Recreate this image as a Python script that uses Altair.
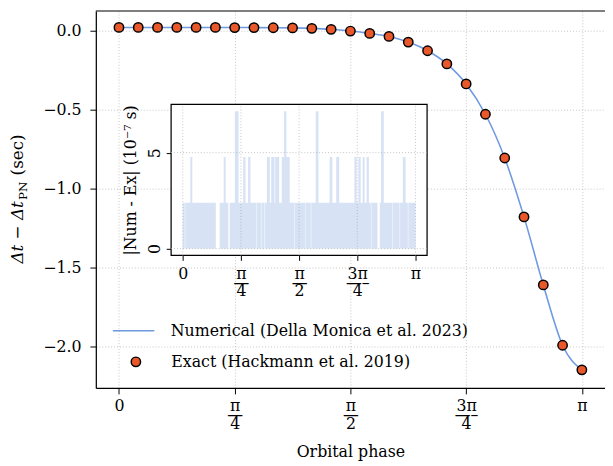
import altair as alt
import pandas as pd

# ---------------- data ----------------
phase = [0.0, 0.1309, 0.2618, 0.3927, 0.5236, 0.6545, 0.7854, 0.9163, 1.0472,
         1.1781, 1.3090, 1.4399, 1.5708, 1.7017, 1.8326, 1.9635, 2.0944, 2.2253,
         2.3562, 2.4871, 2.6180, 2.7489, 2.8798, 3.0107, 3.1416]
delta_t = [0.021, 0.021, 0.021, 0.021, 0.021, 0.021, 0.020, 0.020, 0.019,
           0.018, 0.015, 0.009, -0.002, -0.017, -0.036, -0.072, -0.127, -0.210,
           -0.337, -0.529, -0.806, -1.179, -1.610, -1.992, -2.148]

num_label = "Numerical (Della Monica et al. 2023)"
exact_label = "Exact (Hackmann et al. 2019)"

# inset: |Num - Ex| in units of 1e-7 s (step profile)
inset_phase = [0.000, 0.027, 0.033, 0.102, 0.129, 0.446, 0.499, 0.553, 0.579,
               0.615, 0.633, 0.704, 0.753, 0.816, 0.847, 0.882, 0.914, 0.989,
               0.995, 1.056, 1.062, 1.105, 1.111, 1.136, 1.176, 1.194, 1.239,
               1.248, 1.301, 1.337, 1.368, 1.399, 1.444, 1.502, 1.508, 1.658,
               1.664, 1.729, 1.735, 1.796, 1.832, 1.983, 2.019, 2.072, 2.112,
               2.317, 2.348, 2.371, 2.402, 2.429, 2.455, 2.482, 2.513, 2.540,
               2.546, 2.629, 2.660, 2.678, 2.714, 2.830, 2.836, 2.928, 2.934,
               2.972, 3.008, 3.039, 3.045, 3.1416]
inset_diff = [2.384, 0.0, 2.384, 4.768, 2.384, 0.0, 2.384, 4.768, 2.384,
              0.0, 2.384, 7.153, 2.384, 4.768, 2.384, 4.768, 2.384, 0.0,
              2.384, 0.0, 2.384, 0.0, 2.384, 4.768, 2.384, 4.768, 2.384,
              4.768, 2.384, 4.768, 7.153, 4.768, 2.384, 0.0, 2.384, 0.0,
              2.384, 0.0, 2.384, 7.153, 2.384, 4.768, 2.384, 4.768, 2.384,
              4.768, 2.384, 4.768, 2.384, 4.768, 2.384, 4.768, 2.384, 0.0,
              2.384, 0.0, 2.384, 7.153, 2.384, 0.0, 2.384, 0.0, 2.384,
              4.768, 2.384, 0.0, 2.384, 2.384]

x_ticks = [0.0, 0.7853981633974483, 1.5707963267948966, 2.356194490192345, 3.141592653589793]
y_ticks = [0.0, -0.5, -1.0, -1.5, -2.0]
inset_y_ticks = [0, 5]

main_x_domain = [-0.157, 3.2986]
main_y_domain = [-2.2625, 0.125]
inset_x_domain = [-0.157, 3.2986]
inset_y_domain = [-0.357, 7.51]

# ---------------- style / layout ----------------
FONT = "DejaVu Serif"
W, H = 516, 382
INSET_X_RANGE = [76.3, 335.7]
INSET_Y_RANGE = [247.7, 94.7]
LINE_COLOR = "#6f9ae0"
PT_COLOR = "#e8582a"
AREA_COLOR = "#7ba0df"
GRID_COLOR = "#b8b8b8"

FRAC = ("[['0'], ['π','—','4'], ['π','—','2'], ['3π','—–','4'], ['π']]"
        "[round(datum.value / (PI / 4))]")

label_style = dict(labelFont=FONT, labelFontSize=16, labelColor="black",
                   tickColor="black", tickWidth=1)

main_x_axis = alt.Axis(orient="bottom", values=x_ticks, labelExpr=FRAC,
                       labelBaseline="top", labelLineHeight=9, labelPadding=4,
                       labelFlush=False, labelOverlap=False, tickSize=6,
                       domainColor="black", domainWidth=1.25,
                       grid=True, gridColor=GRID_COLOR, gridDash=[1, 2], gridWidth=0.8,
                       title="Orbital phase", titleFont=FONT, titleFontSize=16,
                       titleFontWeight="normal", titleColor="black",
                       titleY=69, titleBaseline="alphabetic", **label_style)
main_y_axis = alt.Axis(orient="left", values=y_ticks, format=".1f",
                       labelPadding=9, tickSize=6, labelFlush=False,
                       domainColor="black", domainWidth=1.25,
                       grid=True, gridColor=GRID_COLOR, gridDash=[1, 2], gridWidth=0.8,
                       title=None, **label_style)

main_x = dict(scale=alt.Scale(domain=main_x_domain, nice=False, zero=False), axis=main_x_axis)
main_y = dict(scale=alt.Scale(domain=main_y_domain, nice=False, zero=False), axis=main_y_axis)

inset_x_axis = alt.Axis(orient="bottom", offset=-(H - INSET_Y_RANGE[0]), values=x_ticks,
                        labelExpr=FRAC, labelBaseline="top", labelLineHeight=9,
                        labelPadding=5, labelFlush=False, labelOverlap=False,
                        tickSize=5, domain=False, grid=False, title=None, **label_style)
inset_y_axis = alt.Axis(orient="left", offset=-INSET_X_RANGE[0], values=inset_y_ticks,
                        labelAngle=270, labelAlign="center", labelBaseline="bottom",
                        labelPadding=4, tickSize=5, domain=False, grid=False,
                        labelFlush=False,
                        title="|Num - Ex|  (10⁻⁷ s)", titleFont=FONT, titleFontSize=16,
                        titleFontWeight="normal", titleColor="black", titleX=-33,
                        **label_style)

inset_x = dict(scale=alt.Scale(domain=inset_x_domain, range=INSET_X_RANGE, nice=False, zero=False),
               axis=inset_x_axis)
inset_y = dict(scale=alt.Scale(domain=inset_y_domain, range=INSET_Y_RANGE, nice=False, zero=False),
               axis=inset_y_axis)

# ---------------- main panel ----------------
df_line = pd.DataFrame({"phase": phase, "delta": delta_t, "series": num_label})
df_pts = pd.DataFrame({"phase": phase, "delta": delta_t, "series": exact_label})
one = pd.DataFrame({"k": [0]})

line = alt.Chart(df_line).mark_line(strokeWidth=1.6, interpolate="monotone").encode(
    x=alt.X("phase:Q", **main_x),
    y=alt.Y("delta:Q", **main_y),
    stroke=alt.Stroke("series:N", title=None,
                      scale=alt.Scale(domain=[num_label], range=[LINE_COLOR]),
                      legend=alt.Legend(orient="none", legendX=16.3, legendY=302, padding=0,
                                        symbolType="stroke", symbolSize=1764,
                                        symbolStrokeWidth=1.6, labelOffset=15.7,
                                        labelFont=FONT, labelFontSize=16,
                                        labelColor="black", labelLimit=500)),
)

points = alt.Chart(df_pts).mark_point(filled=True, size=90, stroke="black",
                                      strokeWidth=1.5, opacity=1).encode(
    x=alt.X("phase:Q", **main_x),
    y=alt.Y("delta:Q", **main_y),
    fill=alt.Fill("series:N", title=None,
                  scale=alt.Scale(domain=[exact_label], range=[PT_COLOR]),
                  legend=alt.Legend(orient="none", legendX=32.6, legendY=347.5, padding=0,
                                    symbolType="circle", symbolSize=90,
                                    symbolStrokeColor="black", symbolStrokeWidth=1.5,
                                    symbolOpacity=1, labelOffset=27.9,
                                    labelFont=FONT, labelFontSize=16,
                                    labelColor="black", labelLimit=500)),
)

top_rule = alt.Chart(one).mark_rule(color="black", strokeWidth=1.25).encode(
    x=alt.value(0), x2=alt.value(W), y=alt.value(0))

ttl_a = alt.Chart(one).mark_text(text="Δt − Δt", angle=270, align="left",
                                 baseline="alphabetic", font=FONT, fontSize=17,
                                 fontStyle="italic", color="black").encode(
    x=alt.value(-74), y=alt.value(256))
ttl_b = alt.Chart(one).mark_text(text="PN", angle=270, align="left",
                                 baseline="alphabetic", font=FONT, fontSize=12,
                                 color="black").encode(
    x=alt.value(-70), y=alt.value(191.5))
ttl_c = alt.Chart(one).mark_text(text="(sec)", angle=270, align="left",
                                 baseline="alphabetic", font=FONT, fontSize=17,
                                 color="black").encode(
    x=alt.value(-74), y=alt.value(166.6))

main = alt.layer(line, points, top_rule, ttl_a, ttl_b, ttl_c)

# ---------------- inset panel ----------------
df_bg = pd.DataFrame({"x0": [inset_x_domain[0]], "x1": [inset_x_domain[1]],
                      "y0": [inset_y_domain[0]], "y1": [inset_y_domain[1]]})
df_vgrid = pd.DataFrame({"xt": x_ticks, "y0": inset_y_domain[0], "y1": inset_y_domain[1]})
df_hgrid = pd.DataFrame({"yt": inset_y_ticks, "x0": inset_x_domain[0], "x1": inset_x_domain[1]})
df_diff = pd.DataFrame({"phase": inset_phase, "diff": inset_diff})

bg = alt.Chart(df_bg).mark_rect(fill="white", stroke="black", strokeWidth=1.25).encode(
    x=alt.X("x0:Q", **inset_x), x2="x1", y=alt.Y("y0:Q", **inset_y), y2="y1")
vgrid = alt.Chart(df_vgrid).mark_rule(color=GRID_COLOR, strokeWidth=0.8, strokeDash=[1, 2]).encode(
    x=alt.X("xt:Q", **inset_x), y=alt.Y("y0:Q", **inset_y), y2="y1")
hgrid = alt.Chart(df_hgrid).mark_rule(color=GRID_COLOR, strokeWidth=0.8, strokeDash=[1, 2]).encode(
    y=alt.Y("yt:Q", **inset_y), x=alt.X("x0:Q", **inset_x), x2="x1")
area = alt.Chart(df_diff).mark_area(interpolate="step-after", color=AREA_COLOR, opacity=0.3).encode(
    x=alt.X("phase:Q", **inset_x), y=alt.Y("diff:Q", **inset_y))

inset = alt.layer(bg, vgrid, hgrid, area)

chart = alt.layer(main, inset).resolve_scale(
    x="independent", y="independent"
).properties(
    width=W, height=H,
    autosize=alt.AutoSizeParams(type="none"),
    padding={"left": 89, "top": 0, "right": 0, "bottom": 72},
    background="white",
).configure_view(stroke=None)

chart.save("out.html", embed_options={"renderer": "svg", "actions": False})
